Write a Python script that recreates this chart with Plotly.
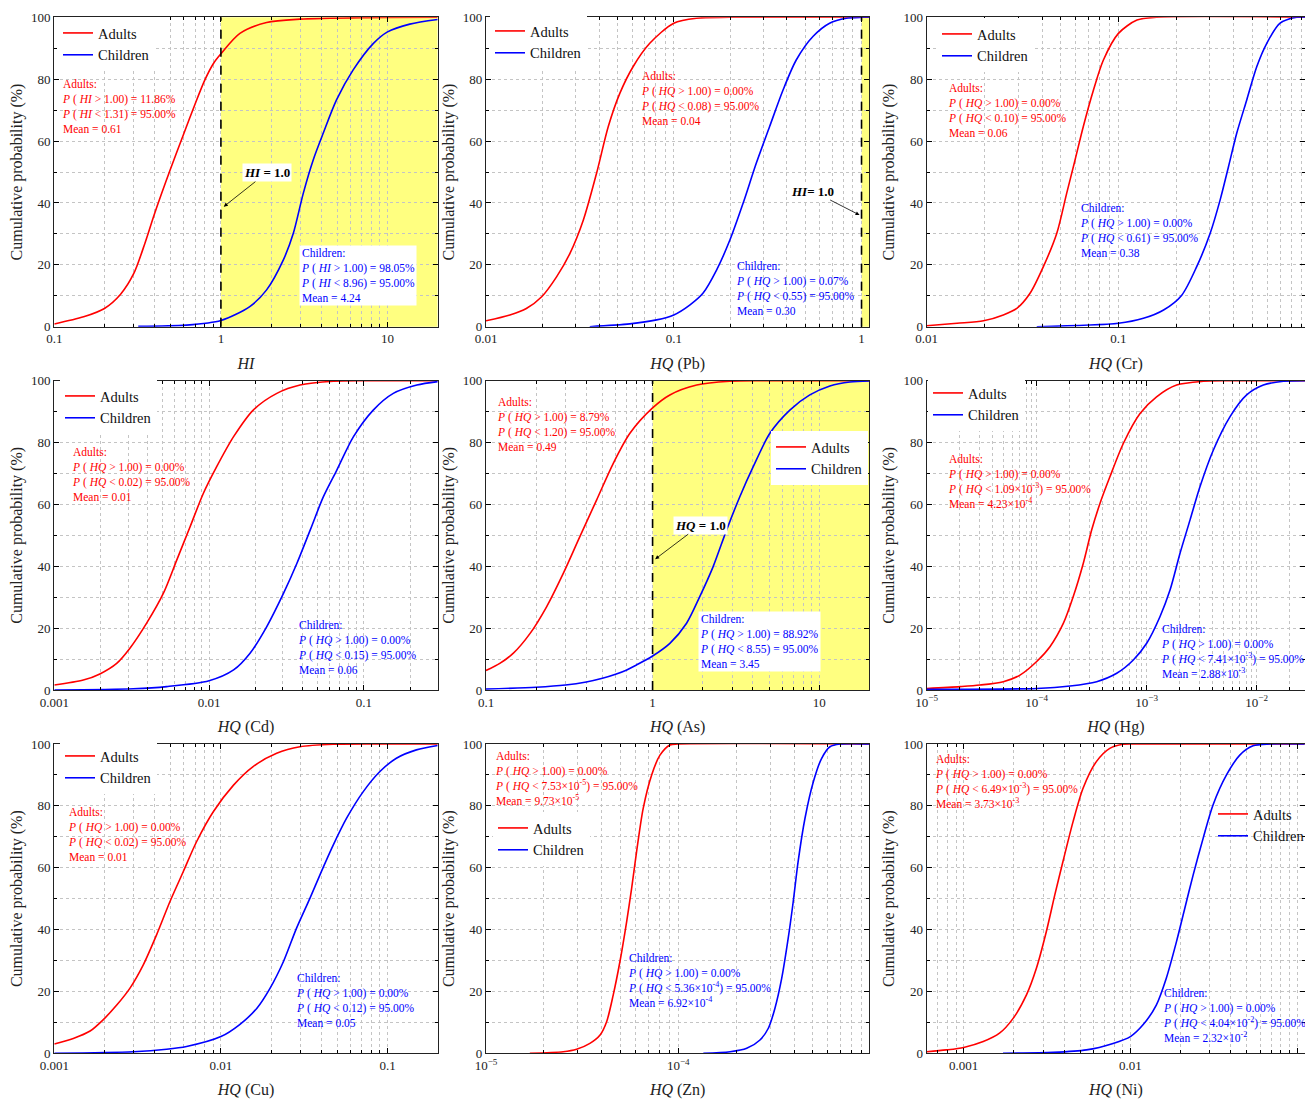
import numpy as np
import plotly.graph_objects as go

W, H = 1305, 1099
FONT = "Liberation Serif"
RED, BLUE = "#ff0000", "#0000ff"

# ---------------- data ----------------
# Panel 1: HI
hi_adults_x = [0.1, 0.15, 0.2, 0.25, 0.3, 0.35, 0.4, 0.5, 0.6, 0.7, 0.8, 0.9, 1.0, 1.30, 1.88, 2.98, 7.5, 20]
hi_adults_y = [0.9, 3.2, 5.9, 10.5, 17.2, 27.0, 36.6, 51.2, 62.5, 72.0, 79.7, 85.0, 88.2, 94.8, 98.3, 99.4, 99.9, 100]
hi_child_x = [0.319, 0.62, 1.0, 1.49, 1.88, 2.37, 2.72, 3.12, 3.58, 4.11, 4.94, 6.22, 8.2, 10, 13.6, 20]
hi_child_y = [0.1, 0.5, 2.0, 6.5, 11.9, 21.6, 30.2, 43.1, 53.9, 62.5, 73.3, 83.0, 91.5, 95.3, 97.8, 99.3]

# Panel 2: HQ (Pb)
pb_adults_x = [0.01, 0.0134, 0.0164, 0.0198, 0.0238, 0.028, 0.033, 0.0388, 0.0448, 0.0516, 0.0608, 0.0745, 0.1, 0.132, 0.199, 1.1]
pb_adults_y = [1.9, 3.8, 5.9, 9.7, 16.2, 23.7, 34.5, 49.6, 64.7, 75.4, 84.1, 91.6, 98.1, 99.7, 100, 100]
pb_child_x = [0.0357, 0.0583, 0.081, 0.1, 0.1216, 0.143, 0.169, 0.199, 0.234, 0.275, 0.324, 0.382, 0.449, 0.551, 0.676, 0.829, 1.0, 1.1]
pb_child_y = [0.0, 0.9, 2.2, 3.8, 7.0, 10.8, 18.3, 28.0, 39.9, 52.8, 64.7, 76.5, 86.2, 93.8, 98.1, 99.7, 100, 100]

# Panel 3: HQ (Cr)
cr_adults_x = [0.01, 0.0144, 0.0198, 0.0251, 0.0295, 0.0346, 0.0406, 0.0477, 0.0537, 0.0594, 0.0656, 0.0741, 0.0835, 0.1, 0.125, 0.158, 0.94]
cr_adults_y = [0.3, 1.1, 1.9, 3.8, 5.9, 10.8, 19.4, 30.2, 43.1, 53.9, 64.7, 76.5, 86.2, 94.8, 99.1, 100, 100]
cr_child_x = [0.0375, 0.1, 0.135, 0.172, 0.214, 0.256, 0.301, 0.339, 0.375, 0.414, 0.467, 0.527, 0.594, 0.697, 0.851, 0.94]
cr_child_y = [0.0, 1.1, 2.7, 5.4, 10.2, 19.4, 30.2, 40.9, 51.7, 62.5, 73.3, 84.1, 91.6, 98.1, 100, 100]

# Panel 4: HQ (Cd)
cd_adults_x = [0.001, 0.00154, 0.00197, 0.00253, 0.00308, 0.00395, 0.00507, 0.00618, 0.00754, 0.00919, 0.0112, 0.0144, 0.0193, 0.0274, 0.0387, 0.0637, 0.1, 0.3]
cd_adults_y = [1.6, 3.2, 5.2, 8.6, 13.5, 21.6, 31.3, 42.0, 52.8, 63.6, 72.2, 81.9, 90.5, 95.9, 98.6, 99.8, 100, 100]
cd_child_x = [0.001, 0.00324, 0.00532, 0.01, 0.0144, 0.0184, 0.0236, 0.0303, 0.0369, 0.045, 0.0548, 0.0669, 0.0857, 0.115, 0.155, 0.220, 0.3]
cd_child_y = [0.0, 0.4, 1.1, 3.0, 6.5, 11.9, 20.5, 31.3, 40.9, 51.7, 62.5, 71.1, 81.9, 90.5, 95.9, 98.6, 99.7]

# Panel 5: HQ (As)
as_adults_x = [0.1, 0.121, 0.146, 0.184, 0.231, 0.291, 0.366, 0.461, 0.581, 0.731, 1.0, 1.27, 1.84, 2.91, 4.6, 20]
as_adults_y = [6.3, 8.6, 11.9, 18.3, 26.9, 37.7, 49.6, 61.4, 73.3, 83.0, 91.2, 95.4, 98.6, 99.8, 100, 100]
as_child_x = [0.1, 0.2, 0.3, 0.4, 0.5, 0.6, 0.7, 0.8, 1.0, 1.27, 1.60, 1.92, 2.31, 2.78, 3.34, 4.02, 5.06, 6.67, 8.79, 11.6, 15.3, 20]
as_child_y = [0.3, 0.9, 1.6, 2.6, 3.8, 5.1, 6.5, 8.1, 11.0, 15.1, 21.6, 30.2, 39.9, 51.7, 62.5, 72.2, 83.0, 90.5, 95.4, 98.3, 99.6, 99.9]

# Panel 6: HQ (Hg)
hg_adults_x = [1e-5, 2.01e-5, 3.05e-5, 4.97e-5, 7.05e-5, 1e-4, 1.32e-4, 1.75e-4, 2.15e-4, 2.65e-4, 3.16e-4, 3.76e-4, 4.64e-4, 6.13e-4, 8.7e-4, 1.23e-3, 1.87e-3, 3.27e-3, 5.5e-3, 0.0275]
hg_adults_y = [0.5, 1.1, 1.6, 2.7, 4.8, 9.2, 14.0, 21.6, 30.2, 40.9, 51.7, 60.3, 69.0, 79.7, 89.4, 94.8, 98.6, 99.8, 100, 100]
hg_child_x = [1e-5, 1e-4, 2.01e-4, 3.51e-4, 5.34e-4, 7.56e-4, 1e-3, 1.32e-3, 1.63e-3, 2.01e-3, 2.48e-3, 3.05e-3, 4.04e-3, 5.73e-3, 8.11e-3, 1.15e-2, 1.75e-2, 0.0275]
hg_child_y = [0.2, 0.5, 1.3, 2.7, 5.4, 9.7, 15.1, 23.7, 32.3, 44.2, 55.0, 65.7, 77.6, 88.4, 95.4, 98.6, 99.8, 100]

# Panel 7: HQ (Cu)
cu_adults_x = [0.001, 0.0013, 0.00164, 0.00197, 0.00237, 0.00284, 0.00342, 0.00411, 0.00494, 0.00594, 0.00714, 0.009, 0.0119, 0.0156, 0.0216, 0.0298, 0.0472, 0.1, 0.2]
cu_adults_y = [3.0, 4.8, 7.2, 10.9, 15.6, 21.0, 28.6, 38.3, 49.0, 58.7, 68.4, 78.1, 86.7, 92.7, 97.0, 99.1, 99.9, 100, 100]
cu_child_x = [0.001, 0.00298, 0.00472, 0.00622, 0.01, 0.0129, 0.0164, 0.0197, 0.0237, 0.0284, 0.0342, 0.0393, 0.0472, 0.0568, 0.0715, 0.09, 0.113, 0.149, 0.2]
cu_child_y = [0.0, 0.5, 1.3, 2.2, 5.4, 9.2, 14.5, 21.0, 29.6, 40.4, 50.1, 57.7, 67.3, 76.0, 84.6, 91.1, 95.4, 98.1, 99.5]

# Panel 8: HQ (Zn)
zn_adults_x = [1.69e-5, 2.52e-5, 2.96e-5, 3.47e-5, 3.92e-5, 4.24e-5, 4.59e-5, 4.97e-5, 5.39e-5, 5.72e-5, 6.07e-5, 6.57e-5, 7.27e-5, 8.03e-5, 9.05e-5, 1.0e-4, 1e-3]
zn_adults_y = [0.0, 0.5, 1.3, 3.2, 5.9, 10.2, 18.9, 29.6, 42.6, 53.3, 65.2, 79.2, 90.0, 96.4, 99.7, 100, 100]
zn_child_x = [1.35e-4, 1.86e-4, 2.27e-4, 2.66e-4, 2.94e-4, 3.18e-4, 3.45e-4, 3.73e-4, 3.96e-4, 4.2e-4, 4.56e-4, 5.04e-4, 5.56e-4, 6.15e-4, 6.93e-4, 1e-3]
zn_child_y = [0.0, 0.5, 1.6, 4.3, 8.1, 14.5, 24.2, 37.2, 49.0, 62.0, 76.0, 87.8, 95.3, 99.1, 100, 100]

# Panel 9: HQ (Ni)
ni_adults_x = [6.0e-4, 7.87e-4, 1e-3, 1.31e-3, 1.64e-3, 1.98e-3, 2.38e-3, 2.73e-3, 3.13e-3, 3.52e-3, 3.94e-3, 4.53e-3, 5.2e-3, 6.25e-3, 7.52e-3, 9.04e-3, 1.1e-2, 0.111]
ni_adults_y = [0.5, 1.1, 1.9, 3.8, 6.5, 11.3, 18.9, 27.5, 39.3, 51.2, 62.0, 74.9, 85.7, 94.3, 98.6, 99.9, 100, 100]
ni_child_x = [1.72e-3, 3.44e-3, 5.45e-3, 7.87e-3, 1e-2, 0.0119, 0.0143, 0.0164, 0.0189, 0.0212, 0.0238, 0.0273, 0.0313, 0.0377, 0.0453, 0.0544, 0.0686, 0.111]
ni_child_y = [0.0, 0.3, 1.1, 3.2, 5.4, 9.2, 15.6, 24.2, 36.1, 46.9, 57.7, 69.5, 80.3, 90.0, 96.4, 99.4, 100, 100]

# Statistics text
adult_stats = [
    ("HI", "11.86%", "1.31", "0.61"),
    ("HQ", "0.00%", "0.08", "0.04"),
    ("HQ", "0.00%", "0.10", "0.06"),
    ("HQ", "0.00%", "0.02", "0.01"),
    ("HQ", "8.79%", "1.20", "0.49"),
    ("HQ", "0.00%", "1.09×10<sup>-3</sup>", "4.23×10<sup>-4</sup>"),
    ("HQ", "0.00%", "0.02", "0.01"),
    ("HQ", "0.00%", "7.53×10<sup>-5</sup>", "9.73×10<sup>-5</sup>"),
    ("HQ", "0.00%", "6.49×10<sup>-3</sup>", "3.73×10<sup>-3</sup>"),
]
child_stats = [
    ("HI", "98.05%", "8.96", "4.24"),
    ("HQ", "0.07%", "0.55", "0.30"),
    ("HQ", "0.00%", "0.61", "0.38"),
    ("HQ", "0.00%", "0.15", "0.06"),
    ("HQ", "88.92%", "8.55", "3.45"),
    ("HQ", "0.00%", "7.41×10<sup>-3</sup>", "2.88×10<sup>-3</sup>"),
    ("HQ", "0.00%", "0.12", "0.05"),
    ("HQ", "0.00%", "5.36×10<sup>-4</sup>", "6.92×10<sup>-4</sup>"),
    ("HQ", "0.00%", "4.04×10<sup>-2</sup>", "2.32×10<sup>-2</sup>"),
]

x_titles = ["<i>HI</i>", "<i>HQ</i> (Pb)", "<i>HQ</i> (Cr)", "<i>HQ</i> (Cd)", "<i>HQ</i> (As)",
            "<i>HQ</i> (Hg)", "<i>HQ</i> (Cu)", "<i>HQ</i> (Zn)", "<i>HQ</i> (Ni)"]

series = [
    (hi_adults_x, hi_adults_y, hi_child_x, hi_child_y),
    (pb_adults_x, pb_adults_y, pb_child_x, pb_child_y),
    (cr_adults_x, cr_adults_y, cr_child_x, cr_child_y),
    (cd_adults_x, cd_adults_y, cd_child_x, cd_child_y),
    (as_adults_x, as_adults_y, as_child_x, as_child_y),
    (hg_adults_x, hg_adults_y, hg_child_x, hg_child_y),
    (cu_adults_x, cu_adults_y, cu_child_x, cu_child_y),
    (zn_adults_x, zn_adults_y, zn_child_x, zn_child_y),
    (ni_adults_x, ni_adults_y, ni_child_x, ni_child_y),
]

# axis ranges (data units) and major ticks
x_ranges = [(0.1, 20), (0.01, 1.1), (0.01, 0.94), (0.001, 0.3), (0.1, 20),
            (1e-5, 0.0275), (0.001, 0.2), (1e-5, 0.000985), (6.0e-4, 0.1115)]
major_ticks = [[0.1, 1, 10], [0.01, 0.1, 1], [0.01, 0.1, 1], [0.001, 0.01, 0.1], [0.1, 1, 10],
               [1e-5, 1e-4, 1e-3, 1e-2], [0.001, 0.01, 0.1], [1e-5, 1e-4, 1e-3], [0.001, 0.01, 0.1]]
sci_panels = {5, 7}
y_ticks = [0, 20, 40, 60, 80, 100]

# ---------------- layout geometry (pixels) ----------------
col_px = [(54.3, 437.7), (486.0, 869.3), (926.7, 1305.0)]
row_px = [(17.3, 326.7), (380.7, 690.0), (744.0, 1053.3)]
adult_box = [(60, 76), (639, 68), (946, 80), (70, 444), (495, 394), (946, 451), (66, 804), (493, 748), (933, 751)]
child_box = [(299, 245), (734, 258), (1078, 200), (296, 617), (698, 611), (1159, 621), (294, 970), (626, 950), (1161, 985)]
child_box_white = {0, 4}
legend_px = [(58, 17), (490, 15), (937, 18), (60, 380), (771, 431), (928, 377), (60, 740), (493, 812), (1213, 798)]
legend_clear = {8}


def sup_label(v):
    e = int(round(np.log10(v)))
    return "10<sup>−%d</sup>" % (-e)


def plain_label(v):
    return ("%g" % v)


fig = go.Figure()
grid_col = "#c4c4c4"

for i in range(9):
    r, c = divmod(i, 3)
    ax_id = "" if i == 0 else str(i + 1)
    xa, ya = "x" + ax_id, "y" + ax_id
    leg = "legend" + ax_id
    ax_, ay_, cx_, cy_ = series[i]
    fig.add_trace(go.Scatter(x=ax_, y=ay_, mode="lines", name="Adults", xaxis=xa, yaxis=ya,
                             line=dict(color=RED, width=1.6, shape="spline", smoothing=0.8),
                             legend=leg, showlegend=True))
    fig.add_trace(go.Scatter(x=cx_, y=cy_, mode="lines", name="Children", xaxis=xa, yaxis=ya,
                             line=dict(color=BLUE, width=1.6, shape="spline", smoothing=0.8),
                             legend=leg, showlegend=True))

    lo, hi = x_ranges[i]
    majors = major_ticks[i]
    labels = [sup_label(v) if i in sci_panels else plain_label(v) for v in majors]
    dec0, dec1 = int(np.floor(np.log10(lo))) - 1, int(np.ceil(np.log10(hi))) + 1
    minors = [k * 10.0 ** d for d in range(dec0, dec1) for k in range(2, 10)]

    x0p, x1p = col_px[c]
    y0p, y1p = row_px[r]
    xdict = dict(
        type="log", range=[np.log10(lo), np.log10(hi)], domain=[x0p / W, x1p / W], anchor=ya,
        tickmode="array", tickvals=majors, ticktext=labels,
        ticks="inside", ticklen=5, tickwidth=1, tickcolor="black",
        showline=True, linecolor="#222", linewidth=1.2, mirror="allticks",
        showgrid=True, gridcolor=grid_col, griddash="dot", gridwidth=1,
        minor=dict(tickmode="array", tickvals=minors, ticks="inside", ticklen=3, tickcolor="black",
                   showgrid=True, gridcolor=grid_col, griddash="dot", gridwidth=1),
        tickfont=dict(family=FONT, size=13, color="#222"),
        title=dict(text=x_titles[i], font=dict(family=FONT, size=16, color="#222"), standoff=12),
        zeroline=False, automargin=False,
    )
    ydict = dict(
        range=[0, 100], domain=[1 - y1p / H, 1 - y0p / H], anchor=xa,
        tickmode="array", tickvals=y_ticks,
        ticks="inside", ticklen=5, tickwidth=1, tickcolor="black",
        showline=True, linecolor="#222", linewidth=1.2, mirror="allticks",
        showgrid=True, gridcolor=grid_col, griddash="dot", gridwidth=1,
        minor=dict(dtick=10, ticks="inside", ticklen=3, tickcolor="black",
                   showgrid=True, gridcolor=grid_col, griddash="dot", gridwidth=1),
        tickfont=dict(family=FONT, size=13, color="#222"),
        title=dict(text="Cumulative probability (%)", font=dict(family=FONT, size=16, color="#222"), standoff=4),
        zeroline=False, automargin=False,
    )
    fig.layout["xaxis" + ax_id] = xdict
    fig.layout["yaxis" + ax_id] = ydict

    lx, ly = legend_px[i]
    fig.layout[leg] = dict(x=lx / W, y=1 - ly / H, xanchor="left", yanchor="top",
                           xref="paper", yref="paper",
                           bgcolor="rgba(255,255,255,0)" if i in legend_clear else "white", borderwidth=0,
                           font=dict(family=FONT, size=14.5, color="#111"),
                           itemwidth=30, tracegroupgap=0)

    sym, pgt, plt_, mean = adult_stats[i]
    txt = ("Adults:<br><i>P</i> ( <i>%s</i> > 1.00) = %s<br><i>P</i> ( <i>%s</i> &lt; %s) = 95.00%%<br>Mean = %s"
           % (sym, pgt, sym, plt_, mean))
    bx, by = adult_box[i]
    fig.add_annotation(x=bx / W, y=1 - by / H, xref="paper", yref="paper", xanchor="left", yanchor="top",
                       text=txt, showarrow=False, align="left", borderpad=1,
                       font=dict(family=FONT, size=11.5, color=RED))
    sym, pgt, plt_, mean = child_stats[i]
    txt = ("Children:<br><i>P</i> ( <i>%s</i> > 1.00) = %s<br><i>P</i> ( <i>%s</i> &lt; %s) = 95.00%%<br>Mean = %s"
           % (sym, pgt, sym, plt_, mean))
    bx, by = child_box[i]
    fig.add_annotation(x=bx / W, y=1 - by / H, xref="paper", yref="paper", xanchor="left", yanchor="top",
                       text=txt, showarrow=False, align="left", borderpad=1,
                       bgcolor="white" if i in child_box_white else "rgba(0,0,0,0)",
                       font=dict(family=FONT, size=11.5, color=BLUE))

# shaded exceedance regions and threshold lines (HI/HQ = 1)
threshold = 1.0
shade = [("x", "y", 1.0, 20), ("x2", "y2", 1.0, 1.1), ("x5", "y5", 1.0, 20)]
for xr, yr, s0, s1 in shade:
    fig.add_shape(type="rect", xref=xr, yref=yr + " domain", x0=s0, x1=s1, y0=0, y1=1,
                  fillcolor="#ffff80", line=dict(width=0), layer="below")
    fig.add_shape(type="line", xref=xr, yref=yr + " domain", x0=threshold, x1=threshold, y0=0, y1=1,
                  line=dict(color="black", width=1.6, dash="dash"), layer="above")

# threshold labels with arrows
arrows = [("x", "y", 1.04, 38.8, "<b><i>HI</i> = 1.0</b>", 43, -34),
          ("x2", "y2", 0.976, 36.1, "<b><i>HI</i>= 1.0</b>", -47, -24),
          ("x5", "y5", 1.036, 42.3, "<b><i>HQ</i> = 1.0</b>", 45, -34)]
for xr, yr, tx, ty, t, axp, ayp in arrows:
    fig.add_annotation(x=np.log10(tx), y=ty, xref=xr, yref=yr, text=t, showarrow=True,
                       ax=axp, ay=ayp, arrowhead=2, arrowsize=1, arrowwidth=0.8, arrowcolor="black",
                       bgcolor="white", borderpad=1, font=dict(family=FONT, size=13, color="black"))

fig.update_layout(width=W, height=H, margin=dict(l=0, r=0, t=0, b=0, autoexpand=False),
                  paper_bgcolor="white", plot_bgcolor="white",
                  font=dict(family=FONT, color="#222"))

fig.write_html("out.html")
